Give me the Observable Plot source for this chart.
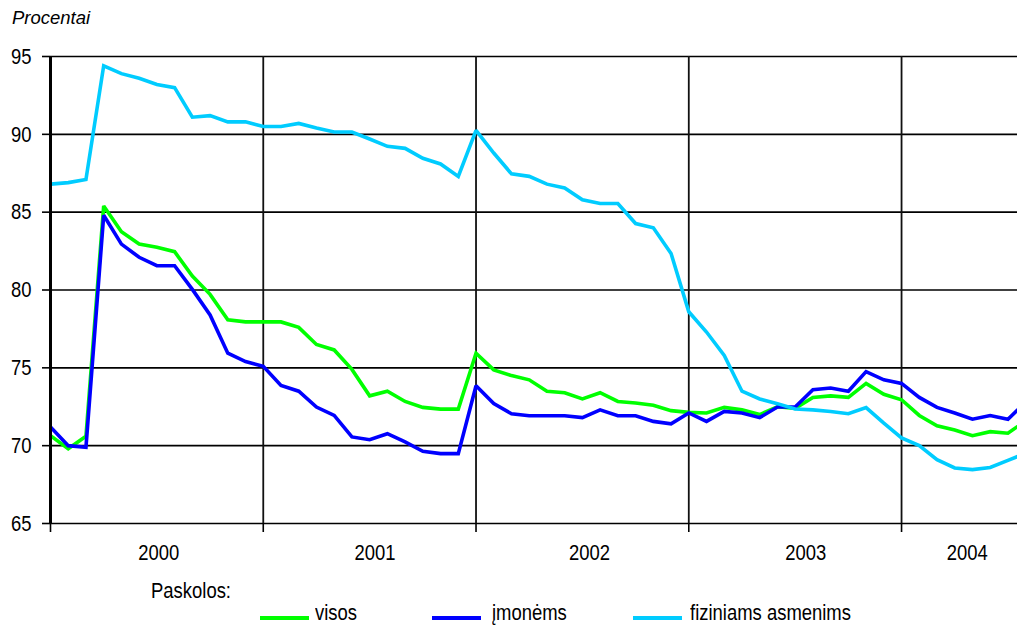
<!DOCTYPE html>
<html>
<head>
<meta charset="utf-8">
<script src="https://cdn.jsdelivr.net/npm/d3@7"></script>
<script src="https://cdn.jsdelivr.net/npm/@observablehq/plot@0.6"></script>
<style>
  html, body { margin: 0; padding: 0; background: #fff; }
  #wrap { position: relative; width: 1017px; height: 625px; overflow: hidden; font-family: "Liberation Sans", Arial, sans-serif; }
  #title { position: relative; height: 36px; }
  #title span { position: absolute; left: 12px; top: 9px; font-style: italic; font-size: 18.5px; line-height: 1; color: #000; }
  #chart svg { display: block; }
  #legend { position: relative; height: 49px; }
  .lg { position: absolute; color: #000; line-height: 1; white-space: nowrap; transform-origin: 0 0; }
  .sw { position: absolute; height: 4px; }
</style>
</head>
<body>
<div id="wrap">
  <div id="title"><span>Procentai</span></div>
  <div id="chart"></div>
  <div id="legend"></div>
</div>
<script>
// ---- data (monthly observations, index 0 = first month shown) ----
const seriesNames = ["visos", "įmonėms", "fiziniams asmenims"];
const seriesColors = ["#00ff00", "#0000ff", "#00ccff"];

const visos = [70.64, 69.8, 70.6, 85.4, 83.74, 82.95, 82.74, 82.46, 80.9, 79.72, 78.08, 77.95,
  77.95, 77.95, 77.6, 76.5, 76.15, 74.9, 73.2, 73.5, 72.84, 72.46, 72.35, 72.35,
  75.94, 74.87, 74.5, 74.23, 73.5, 73.4, 73.0, 73.4, 72.84, 72.74, 72.6, 72.25,
  72.14, 72.1, 72.46, 72.3, 72.0, 72.5, 72.4, 73.1, 73.2, 73.1, 74.0, 73.3,
  72.95, 71.94, 71.28, 71.0, 70.64, 70.9, 70.8, 71.6];

const imonems = [71.2, 70.0, 69.9, 84.8, 82.95, 82.1, 81.56, 81.56, 80.04, 78.4, 75.94, 75.4,
  75.1, 73.87, 73.5, 72.48, 71.94, 70.56, 70.38, 70.77, 70.24, 69.64, 69.49, 69.49,
  73.85, 72.7, 72.05, 71.92, 71.92, 71.92, 71.8, 72.3, 71.92, 71.92, 71.56, 71.4,
  72.1, 71.56, 72.2, 72.1, 71.8, 72.48, 72.48, 73.6, 73.7, 73.5, 74.76, 74.23,
  74.0, 73.1, 72.46, 72.1, 71.7, 71.94, 71.7, 72.8];

const fiziniams = [86.8, 86.9, 87.1, 94.4, 93.9, 93.6, 93.2, 93.0, 91.1, 91.2, 90.8, 90.8,
  90.5, 90.5, 90.7, 90.4, 90.15, 90.15, 89.7, 89.23, 89.1, 88.46, 88.1, 87.3,
  90.26, 88.8, 87.46, 87.3, 86.8, 86.56, 85.8, 85.56, 85.56, 84.27, 84.0, 82.35,
  78.6, 77.3, 75.8, 73.5, 73.0, 72.7, 72.35, 72.3, 72.2, 72.05, 72.45, 71.45,
  70.5, 70.0, 69.1, 68.57, 68.46, 68.6, 69.06, 69.5];

const yearLabels = ["2000", "2001", "2002", "2003", "2004"];
const yearLabelPos = [6.1, 18.3, 30.4, 42.6, 51.7];   // month index where label is centred
const yearBreaks = [12, 24, 36, 48];                  // month index of year boundaries
const yTicks = [65, 70, 75, 80, 85, 90, 95];

// ---- font: Arial-like, horizontally condensed like the original ----
const fam = "'Liberation Sans', Arial, sans-serif";
const fs = 22.5;
const SX = 0.82;

// ---- tidy table ----
const rows = [];
[visos, imonems, fiziniams].forEach((arr, s) => arr.forEach((v, i) => rows.push({ series: seriesNames[s], i, v })));

const chart = Plot.plot({
  width: 1017,
  height: 540,
  marginLeft: 50,
  marginRight: 0,
  marginTop: 20,
  marginBottom: 53,
  style: { fontFamily: fam, fontSize: fs + "px", color: "#000", background: "#fff", overflow: "visible" },
  x: { domain: [0, 54.54], axis: null },
  y: { domain: [65, 95], axis: null },
  color: { domain: seriesNames, range: seriesColors },
  marks: [
    Plot.ruleY(yTicks, { stroke: "#000", strokeWidth: 1.6 }),
    Plot.ruleX(yearBreaks, { stroke: "#111", strokeWidth: 1.8 }),
    Plot.axisX({ ticks: [0, ...yearBreaks], tickSize: 9, tickFormat: () => "", label: null, stroke: "#000", strokeWidth: 1.6 }),
    Plot.axisY({ ticks: yTicks, tickSize: 8, tickPadding: 11, tickFormat: d => String(d), label: null, fontSize: fs, stroke: "#000", strokeWidth: 1.6 }),
    Plot.text(yearLabels, { x: (d, k) => yearLabelPos[k], y: () => 65, text: d => d, dy: 29, lineAnchor: "middle", fontSize: fs, fill: "#000" }),
    Plot.line(rows, { x: "i", y: "v", z: "series", stroke: "series", strokeWidth: 3.6, clip: true, strokeLinejoin: "miter", strokeMiterlimit: 2 }),
    Plot.ruleX([0], { stroke: "#000", strokeWidth: 3 })
  ]
});
document.getElementById("chart").appendChild(chart);

// condense every svg text horizontally around its own anchor point
chart.querySelectorAll("text").forEach(el => {
  const x = parseFloat(el.getAttribute("x") || "0");
  const y = parseFloat(el.getAttribute("y") || "0");
  const t = el.getAttribute("transform") || "";
  el.setAttribute("transform", `${t} translate(${x},${y}) scale(${SX},1) translate(${-x},${-y})`);
});

// ---- legend (HTML, below the svg) ----
const lg = document.getElementById("legend");
function addText(txt, left, baseline) {
  const d = document.createElement("div");
  d.className = "lg";
  d.style.fontFamily = fam;
  d.style.fontSize = fs + "px";
  d.style.left = left + "px";
  d.style.transform = `scaleX(${SX})`;
  d.textContent = txt;
  lg.appendChild(d);
  d.style.top = (baseline - 576 - fs * 0.905) + "px";
}
addText("Paskolos:", 151, 600);
const swLeft = [260, 432, 633];
const txtLeft = [315, 492, 690];
seriesNames.forEach((n, k) => {
  const s = document.createElement("div");
  s.className = "sw";
  s.style.left = swLeft[k] + "px";
  s.style.width = "49px";
  s.style.top = (617.5 - 576 - 2) + "px";
  s.style.background = seriesColors[k];
  lg.appendChild(s);
  addText(n, txtLeft[k], 622);
});
</script>
</body>
</html>
